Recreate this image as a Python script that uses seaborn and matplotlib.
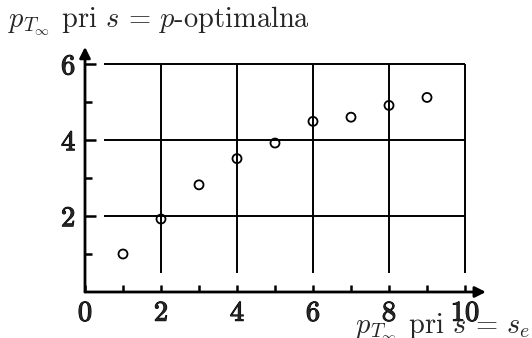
import matplotlib
matplotlib.use('Agg')
import matplotlib.pyplot as plt
import matplotlib.patheffects as pe
import seaborn as sns
import pandas as pd

# ---- data ----
x_vals = [1, 2, 3, 4, 5, 6, 7, 8, 9]
y_vals = [1.0, 1.92, 2.82, 3.51, 3.92, 4.49, 4.60, 4.91, 5.12]
x_major = [0, 2, 4, 6, 8, 10]
x_minor = [1, 3, 5, 7, 9]
y_major = [2, 4, 6]
y_minor = [1, 3, 5]
x_grid = [2, 4, 6, 8, 10]
y_grid = [2, 4, 6]
x_tick_labels = ['0', '2', '4', '6', '8', '10']
y_tick_labels = ['2', '4', '6']
x_label = r'$p_{T_\infty}$ pri $s\,=\,s_e$'
y_label = r'$p_{T_\infty}$ pri $s\,=\,p$-optimalna'

df = pd.DataFrame({'x': x_vals, 'y': y_vals})

sns.set_theme(style='white')
plt.rcParams['mathtext.fontset'] = 'cm'
plt.rcParams['font.family'] = ['cmr10', 'DejaVu Serif']
plt.rcParams['axes.formatter.use_mathtext'] = True

W, H = 532, 338
fig = plt.figure(figsize=(W / 100, H / 100), dpi=100)
ppu = 38.0
x0px, y0px = 85, 46
ax = fig.add_axes([x0px / W, y0px / H, 11.0 * ppu / W, 7.0 * ppu / H])
ax.set_xlim(0, 11.0)
ax.set_ylim(0, 7.0)
ax.patch.set_alpha(0)
for s in ax.spines.values():
    s.set_visible(False)

# grid
ax.hlines(y_grid, 0.5, 10, colors='black', lw=1.4, zorder=1)
ax.vlines(x_grid, 0.5, 6, colors='black', lw=1.4, zorder=1)

# axes with arrows
ax.annotate('', xy=(10.55, 0), xytext=(0, 0), xycoords='data',
            arrowprops=dict(arrowstyle='-|>', lw=2.0, color='black',
                            mutation_scale=16, shrinkA=0, shrinkB=0), zorder=3)
ax.annotate('', xy=(0, 6.45), xytext=(0, 0), xycoords='data',
            arrowprops=dict(arrowstyle='-|>', lw=2.0, color='black',
                            mutation_scale=16, shrinkA=0, shrinkB=0), zorder=3)

# points
sns.scatterplot(data=df, x='x', y='y', ax=ax, marker='o', s=42,
                facecolor='none', edgecolor='black', linewidth=1.3, zorder=4)

ax.set_xlabel('')
ax.set_ylabel('')

# ticks
ax.set_xticks(x_major)
ax.set_xticklabels(x_tick_labels)
ax.set_xticks(x_minor, minor=True)
ax.set_yticks(y_major)
ax.set_yticklabels(y_tick_labels)
ax.set_yticks(y_minor, minor=True)
ax.tick_params(axis='x', which='both', direction='in', length=5, width=1.8,
               color='black', labelsize=20.5, pad=6, bottom=True)
ax.tick_params(axis='y', which='major', direction='in', length=8, width=1.8,
               color='black', labelsize=20.5, pad=7, left=True)
ax.tick_params(axis='y', which='minor', direction='in', length=5, width=1.8,
               color='black', left=True)
for t in ax.get_xticklabels() + ax.get_yticklabels():
    t.set_path_effects([pe.withStroke(linewidth=0.8, foreground='black')])

fig.text(8 / W, 1 - 27 / H, y_label, fontsize=20.5, ha='left', va='baseline')
fig.text(530 / W, 1 - 333 / H, x_label, fontsize=20.5, ha='right', va='baseline')

fig.savefig('out.png', dpi=100, facecolor='white')
